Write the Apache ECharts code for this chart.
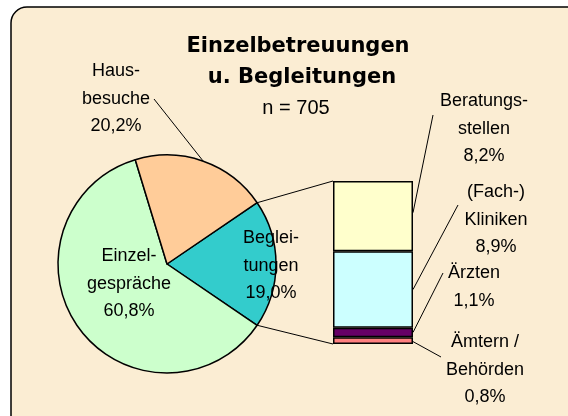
<!DOCTYPE html>
<html>
<head>
<meta charset="utf-8">
<script src="https://cdn.jsdelivr.net/npm/echarts@6/dist/echarts.min.js"></script>
<style>
  html, body { margin: 0; padding: 0; background: #fff; }
  #chart { width: 568px; height: 416px; }
</style>
</head>
<body>
<div id="chart"></div>
<script>
// Kreis: Reihenfolge im Uhrzeigersinn ab Begleitungen
const pieNames = ["Begleitungen", "Einzelgespräche", "Hausbesuche"];
const pieLabels = ["Beglei-\ntungen", "Einzel-\ngespräche", "Haus-\nbesuche"];
const pieValues = [19.0, 60.8, 20.2];
const pieColors = ["#33cccc", "#ccffcc", "#ffcc99"];

// Säule (Aufteilung Begleitungen), von unten nach oben
const barNames = ["Ämtern / Behörden", "Ärzten", "(Fach-) Kliniken", "Beratungsstellen"];
const barLabels = ["Ämtern /\nBehörden", "Ärzten", "(Fach-)\nKliniken", "Beratungs-\nstellen"];
const barValues = [0.8, 1.1, 8.9, 8.2];
const barColors = ["#ff8080", "#660066", "#ccffff", "#ffffcc"];

const titleLines = ["Einzelbetreuungen", "u. Begleitungen"];
const subTitle = "n = 705";

const font = '"Liberation Sans", Arial, sans-serif';
const titleFont = '"DejaVu Sans", sans-serif';
const pct = v => v.toFixed(1).replace(".", ",") + "%";

const pieCenter = [167, 264];
const pieRadius = 109;
// Beschriftungen (Mittelpunkt des Textblocks)
const pieLabelPos = [[271, 266], [129, 284], [116, 99]];
const barLabelPos = [[485, 370], [474, 287], [496, 220], [484, 129]];
// Endpunkte der Führungslinien an den Beschriftungen
const barLeaderEnd = [[441, 357], [443, 273], [458, 205], [433, 115]];
const barLeaderFrac = [0.35, 0.5, 0.5, 0.55];
const pieLeaderEnd = [154, 99];

const total = barValues.reduce((a, b) => a + b, 0);
const startAngle = pieValues[0] / 100 * 180;

const chart = echarts.init(document.getElementById("chart"));

const labelStyle = {
  color: "#000",
  fontFamily: font,
  fontSize: 18,
  lineHeight: 27.5
};

const option = {
  animation: false,
  backgroundColor: "#fff",
  graphic: [
    {
      id: "bg",
      type: "rect",
      z: -10,
      shape: { x: 11, y: 7, width: 600, height: 460, r: 16 },
      style: { fill: "#fbedd3", stroke: "#000", lineWidth: 1.5 }
    },
    {
      id: "t1",
      type: "text",
      x: 298, y: 47,
      style: {
        text: titleLines[0], fill: "#000", font: "bold 21px " + titleFont,
        textAlign: "center", textVerticalAlign: "middle"
      }
    },
    {
      id: "t2",
      type: "text",
      x: 302, y: 78,
      style: {
        text: titleLines[1], fill: "#000", font: "bold 21px " + titleFont,
        textAlign: "center", textVerticalAlign: "middle"
      }
    },
    {
      id: "t3",
      type: "text",
      x: 296, y: 108,
      style: {
        text: subTitle, fill: "#000", font: "20px " + font,
        textAlign: "center", textVerticalAlign: "middle"
      }
    }
  ],
  grid: { left: 333, top: 181, width: 80, height: 163 },
  xAxis: { type: "category", data: ["Begleitungen"], show: false },
  yAxis: { type: "value", min: 0, max: total, show: false },
  series: [
    {
      type: "pie",
      center: pieCenter,
      radius: pieRadius,
      startAngle: startAngle,
      clockwise: true,
      avoidLabelOverlap: false,
      emphasis: { disabled: true },
      itemStyle: { borderColor: "#000", borderWidth: 1.5 },
      label: Object.assign({
        show: true,
        position: "inside",
        formatter: p => pieLabels[p.dataIndex] + "\n" + pct(p.value)
      }, labelStyle),
      labelLine: { show: false },
      labelLayout: p => ({
        x: pieLabelPos[p.dataIndex][0],
        y: pieLabelPos[p.dataIndex][1],
        align: "center",
        verticalAlign: "middle"
      }),
      data: pieNames.map((n, i) => ({
        name: n,
        value: pieValues[i],
        itemStyle: { color: pieColors[i] }
      }))
    }
  ].concat(barNames.map((n, i) => ({
    type: "bar",
    name: n,
    stack: "b",
    barWidth: "100%",
    emphasis: { disabled: true },
    itemStyle: { color: barColors[i], borderColor: "#000", borderWidth: 1.5 },
    label: Object.assign({
      show: true,
      formatter: p => barLabels[i] + "\n" + pct(p.value)
    }, labelStyle),
    labelLayout: {
      x: barLabelPos[i][0],
      y: barLabelPos[i][1],
      align: "center",
      verticalAlign: "middle"
    },
    data: [barValues[i]]
  })))
};

chart.setOption(option);

// Linien: Kreis -> Säule und Führungslinien
const rad = a => a * Math.PI / 180;
const piePoint = a => [
  pieCenter[0] + pieRadius * Math.cos(rad(a)),
  pieCenter[1] - pieRadius * Math.sin(rad(a))
];
const barLeft = 333, barRight = 413;
const yPx = v => chart.convertToPixel({ gridIndex: 0 }, [0, v])[1];

const lineStyle = { stroke: "#000", lineWidth: 1 };
const lines = [];
const upperPt = piePoint(startAngle);
const lowerPt = piePoint(-startAngle);
lines.push({ id: "c1", type: "line", shape: { x1: upperPt[0], y1: upperPt[1], x2: barLeft, y2: yPx(total) }, style: lineStyle });
lines.push({ id: "c2", type: "line", shape: { x1: lowerPt[0], y1: lowerPt[1], x2: barLeft, y2: yPx(0) }, style: lineStyle });

let cum = 0;
barValues.forEach((v, i) => {
  const y = yPx(cum + v * barLeaderFrac[i]);
  cum += v;
  lines.push({
    id: "l" + i, type: "line", z: 10,
    shape: { x1: barRight, y1: y, x2: barLeaderEnd[i][0], y2: barLeaderEnd[i][1] },
    style: lineStyle
  });
});

// Hausbesuche: Mitte des Segments
const hp = piePoint(startAngle + pieValues[2] / 100 * 180);
lines.push({
  id: "lh", type: "line", z: 10,
  shape: { x1: pieLeaderEnd[0], y1: pieLeaderEnd[1], x2: hp[0], y2: hp[1] },
  style: lineStyle
});

chart.setOption({ graphic: lines });
</script>
</body>
</html>
